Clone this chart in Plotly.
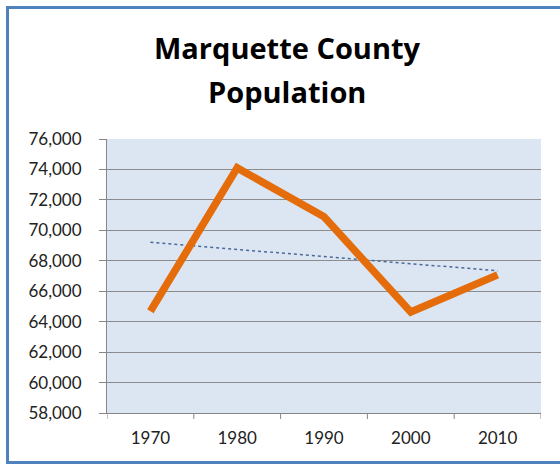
import numpy as np
import plotly.graph_objects as go

years = ["1970", "1980", "1990", "2000", "2010"]
population = [64686, 74101, 70887, 64634, 67077]
y_ticks = [58000, 60000, 62000, 64000, 66000, 68000, 70000, 72000, 74000, 76000]
title_lines = ["Marquette County", "Population"]

# linear trendline (as Excel does)
xi = np.arange(len(years))
slope, intercept = np.polyfit(xi, population, 1)
trend = list(slope * xi + intercept)

W, H = 560, 464
L, R, T, B = 107, 541, 139, 413
pw, ph = R - L, B - T


def px_x(p):
    return (p - L) / pw


def px_y(p):
    return (B - p) / ph


fig = go.Figure()
fig.add_trace(go.Scatter(
    x=xi, y=trend, mode="lines",
    line=dict(color="#4A6A96", width=1.5, dash="3px,3px"),
    hoverinfo="skip", showlegend=False))
fig.add_trace(go.Scatter(
    x=xi, y=population, mode="lines",
    line=dict(color="#E46C0A", width=7.5),
    showlegend=False))

annotations = [
    dict(text=f"<b>{t}</b>", xref="paper", yref="paper",
         x=px_x(287), y=px_y(yc), xanchor="center", yanchor="middle",
         showarrow=False,
         font=dict(family="Open Sans", size=29, color="black"))
    for t, yc in zip(title_lines, [48, 91])
]

fig.update_layout(
    width=W, height=H,
    margin=dict(l=L, r=W - R, t=T, b=H - B, autoexpand=False),
    paper_bgcolor="white",
    plot_bgcolor="#DCE6F2",
    annotations=annotations,
    xaxis=dict(
        range=[-0.5, 4.5],
        tickmode="array", tickvals=list(xi), ticktext=years,
        showgrid=False, zeroline=False,
        showline=True, linecolor="#868686", linewidth=1,
        ticks="", tickfont=dict(family="Lato", size=17, color="#222"),
        ticklabelstandoff=10,
    ),
    yaxis=dict(
        range=[58000, 76000],
        tickmode="array", tickvals=y_ticks,
        ticktext=[f"{v:,}" for v in y_ticks],
        showgrid=True, gridcolor="#8C8C8C", gridwidth=1,
        zeroline=False,
        showline=True, linecolor="#868686", linewidth=1,
        ticks="outside", ticklen=7, tickcolor="#868686",
        ticklabelstandoff=14,
        tickfont=dict(family="Lato", size=17, color="#222"),
    ),
    shapes=[
        dict(type="rect", xref="paper", yref="paper",
             x0=px_x(7.5), x1=px_x(575), y0=px_y(462.5), y1=px_y(7.5),
             line=dict(color="#4F81BD", width=3), fillcolor="rgba(0,0,0,0)",
             layer="below"),
    ] + [
        dict(type="line", xref="x", yref="paper",
             x0=k - 0.5, x1=k - 0.5, y0=0, y1=-6 / ph,
             line=dict(color="#868686", width=1))
        for k in range(len(years) + 1)
    ],
)

fig.write_html(
    "out.html",
    config={"displayModeBar": False},
    post_script="document.body.style.margin='0';document.body.style.overflow='hidden';",
)
